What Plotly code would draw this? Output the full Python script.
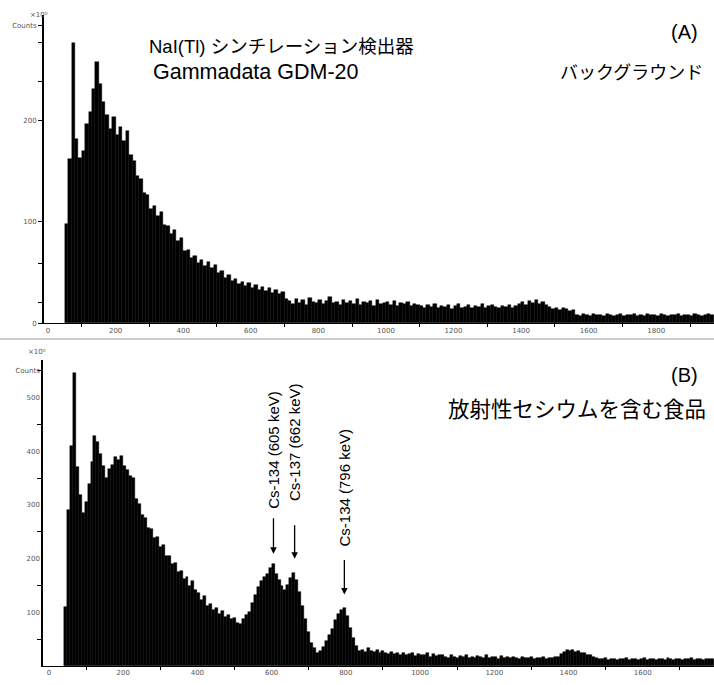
import plotly.graph_objects as go

# ---------------- data ----------------
# (A) background spectrum, 10 keV bins starting at 50 keV
bin_start_a = 50
bin_width_a = 10
counts_a = [
    98, 162, 276, 182, 163, 170, 196, 208, 231, 258,
    236, 218, 205, 192, 203, 186, 194, 180, 190, 166,
    160, 145, 142, 128, 126, 113, 116, 106, 110, 97,
    96, 88, 92, 81, 84, 71, 72, 64, 66, 59,
    62, 56, 60, 54, 57, 50, 51, 45, 48, 42,
    44, 39, 41, 37, 40, 35, 38, 33, 36, 32,
    35, 30, 33, 29, 31, 24,
    22, 19, 24, 20, 23, 18, 25, 21, 20, 23, 19, 22, 26, 20, 21, 18, 23, 20, 22, 19,
    24, 18, 21, 20, 22, 17, 23, 19, 20, 21, 18, 22, 17, 20, 19, 21, 17, 19, 18,
    17, 15, 18, 16, 19, 15, 17, 16, 18, 14, 17, 19, 15, 16, 18, 15, 17, 16, 19, 15,
    17, 18, 16, 15, 17, 16, 18, 15, 17,
    19, 21, 18, 22, 20, 23, 19, 21, 18,
    16, 14, 15, 13, 15, 14, 12, 13,
    8, 7, 9, 8, 7, 9, 8, 8, 7, 9, 8, 7, 8, 9, 7, 8, 8, 9, 7, 8,
    7, 9, 8, 8, 7, 9, 8, 7, 8, 8, 9, 7, 8, 8, 7, 9, 8, 7, 8, 9, 8,
]

# (B) food sample with radioactive caesium, 8 keV bins starting at 40 keV
bin_start_b = 40
bin_width_b = 8
counts_b = [
    110, 290, 410, 545, 370, 318, 285, 305, 340, 380,
    428, 418, 395, 372, 350, 368, 375, 390, 384, 392,
    372, 366, 355, 350, 312, 302, 282, 276, 258, 256,
    238, 240, 222, 225, 205, 206, 190, 192, 176, 178,
    163, 166, 150, 158, 142, 136, 124, 130, 112, 116,
    104, 108, 97, 102, 92, 96, 88, 90, 80, 78,
    88, 95, 100, 118, 132, 148, 158, 166, 172, 182,
    190, 172, 160, 150, 142, 152, 164, 174, 160, 138,
    112, 88, 64, 44, 34, 24, 28, 36, 46, 58,
    70, 86, 98, 104, 108, 94, 72, 52, 38, 28,
    30, 27, 33, 29, 26, 31, 24, 28, 25, 22, 27, 23, 25,
    21, 24, 20, 22, 25, 19, 23, 21, 20, 24, 18, 22, 19, 21, 20,
    18, 16, 20, 17, 15, 19, 17, 21, 16, 18, 15, 19, 17, 16, 20, 15, 18, 17, 14, 19,
    16, 17, 15, 18, 16, 14, 17, 15, 16, 18, 14, 16, 15, 17, 14, 16, 15, 17,
    18, 22, 26, 30, 28, 31, 27, 29, 24, 25, 21, 20,
    17, 15, 14, 13, 15, 12, 14, 13, 12, 14, 13, 15, 12, 13, 14, 12, 13, 15, 12, 14,
    13, 12, 14, 13, 12, 15, 13, 12, 14, 13, 12, 14, 13, 15, 12, 13, 14, 12, 13, 14, 13,
]

x_labels_a = [0, 200, 400, 600, 800, 1000, 1200, 1400, 1600, 1800]
x_labels_b = [0, 200, 400, 600, 800, 1000, 1200, 1400, 1600]
y_labels_a = [0, 100, 200]
y_labels_b = [100, 200, 300, 400, 500]

peaks_b = [605, 662, 796]
peak_names = ["Cs-134 (605 keV)", "Cs-137 (662 keV)", "Cs-134 (796 keV)"]

energy_a = [bin_start_a + bin_width_a * (i + 0.5) for i in range(len(counts_a))]
energy_b = [bin_start_b + bin_width_b * (i + 0.5) for i in range(len(counts_b))]

W, H = 714, 685
def px(x):
    return x / W
def py(y):
    return 1 - y / H

fig = go.Figure()
fig.add_trace(go.Bar(x=energy_a, y=counts_a, width=bin_width_a,
                     marker=dict(color="black", line=dict(color="black", width=0.4)),
                     xaxis="x", yaxis="y", showlegend=False, hoverinfo="x+y"))
fig.add_trace(go.Bar(x=energy_b, y=counts_b, width=bin_width_b,
                     marker=dict(color="black", line=dict(color="black", width=0.4)),
                     xaxis="x2", yaxis="y2", showlegend=False, hoverinfo="x+y"))

tick_font = dict(family="DejaVu Sans", size=7, color="#555555")

fig.update_layout(
    width=W, height=H,
    margin=dict(l=0, r=0, t=0, b=0),
    paper_bgcolor="white", plot_bgcolor="white",
    bargap=0,
    font=dict(family="Liberation Sans, Noto Sans CJK JP", color="black"),
    xaxis=dict(domain=[px(44), 1], range=[-12, 1971], anchor="y",
               showline=True, linecolor="black", linewidth=1,
               showgrid=False, zeroline=False,
               tickvals=x_labels_a, ticktext=[str(v) for v in x_labels_a],
               ticks="", tickfont=tick_font,
               minor=dict(tickvals=[v + 100 for v in x_labels_a], ticks="outside",
                          ticklen=3, tickcolor="black", tickwidth=1)),
    yaxis=dict(domain=[py(325), py(15)], range=[0, 304], anchor="x",
               showline=True, linecolor="black", linewidth=2,
               showgrid=False, zeroline=False,
               tickvals=y_labels_a + [294], ticktext=[str(v) for v in y_labels_a] + ["Counts"],
               ticks="outside", ticklen=4, tickcolor="black", tickfont=tick_font,
               minor=dict(tickvals=[20, 59, 238, 277], ticks="outside",
                          ticklen=4, tickcolor="black", tickwidth=1)),
    xaxis2=dict(domain=[px(43), 1], range=[-16, 1792], anchor="y2",
                showline=True, linecolor="black", linewidth=1,
                showgrid=False, zeroline=False,
                tickvals=x_labels_b, ticktext=[str(v) for v in x_labels_b],
                ticks="", tickfont=tick_font,
                minor=dict(tickvals=[v + 100 for v in x_labels_b], ticks="outside",
                           ticklen=3, tickcolor="black", tickwidth=1)),
    yaxis2=dict(domain=[py(670), py(362)], range=[0, 570], anchor="x2",
                showline=True, linecolor="black", linewidth=1.5,
                showgrid=False, zeroline=False,
                tickvals=y_labels_b + [550], ticktext=[str(v) for v in y_labels_b] + ["Counts"],
                ticks="", tickfont=tick_font,
                minor=dict(tickvals=[50, 150, 250, 350, 450, 550], ticks="outside",
                           ticklen=4, tickcolor="black", tickwidth=1)),
)

# separator between panels
fig.add_shape(type="line", xref="paper", yref="paper", x0=0, x1=1, y0=py(341), y1=py(341),
              line=dict(color="#cccccc", width=2))

ann = []
ann.append(dict(text="NaI(Tl) シンチレーション検出器", x=px(147), y=py(47), xanchor="left",
                yanchor="middle", font=dict(size=18.5)))
ann.append(dict(text="Gammadata GDM-20", x=px(151), y=py(72), xanchor="left",
                yanchor="middle", font=dict(size=21.5)))
ann.append(dict(text="バックグラウンド", x=px(705), y=py(73), xanchor="right",
                yanchor="middle", font=dict(size=18)))
ann.append(dict(text="(A)", x=px(700), y=py(32), xanchor="right", yanchor="middle",
                font=dict(size=20)))
ann.append(dict(text="(B)", x=px(700), y=py(377), xanchor="right", yanchor="middle",
                font=dict(size=20)))
ann.append(dict(text="放射性セシウムを含む食品", x=px(708), y=py(412), xanchor="right",
                yanchor="middle", font=dict(size=21.5)))
ann.append(dict(text="×10⁰", x=px(28), y=py(9), font=tick_font))
ann.append(dict(text="×10⁰", x=px(26), y=py(354), font=tick_font))

text_centers = [452, 445, 490]
arrow_tips = [557, 562, 598]
arrow_tails = [520, 527, 562]
for e, name, tc, tip, tail in zip(peaks_b, peak_names, text_centers, arrow_tips, arrow_tails):
    ann.append(dict(text=name, x=e, xref="x2", y=py(tc), yref="paper", textangle=-90,
                    showarrow=False, font=dict(size=15), xanchor="center", yanchor="middle"))
    ann.append(dict(text="", x=e, xref="x2", y=py(tip), yref="paper", showarrow=True,
                    ax=0, ay=-(tip - tail), arrowhead=2, arrowsize=1, arrowwidth=1.3,
                    arrowcolor="black"))

for a in ann:
    a.setdefault("xref", "paper")
    a.setdefault("yref", "paper")
    a.setdefault("showarrow", False)
    fig.add_annotation(**a)

fig.write_html("out.html", config={"displayModeBar": False},
               post_script="document.body.style.margin='0px';")
